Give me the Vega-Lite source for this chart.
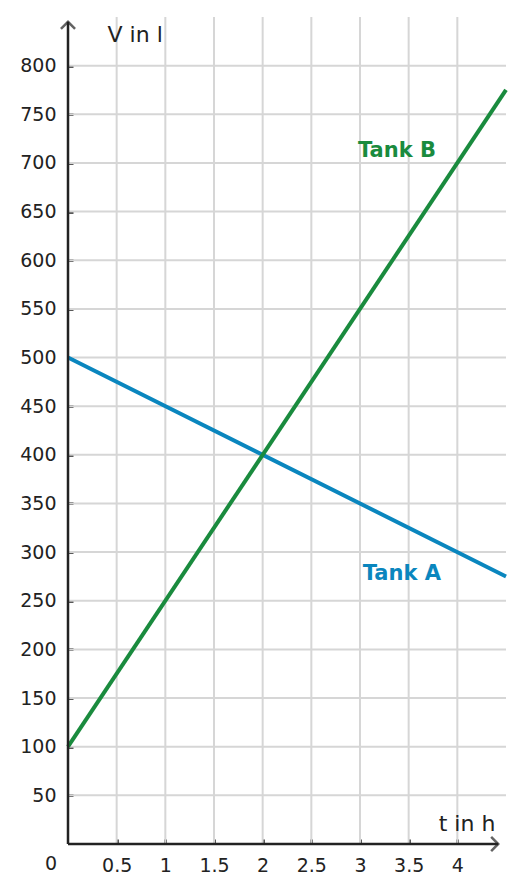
{
  "$schema": "https://vega.github.io/schema/vega-lite/v6.json",
  "width": 438,
  "height": 827,
  "autosize": {"type": "none"},
  "padding": {"left": 68, "top": 17, "right": 17, "bottom": 49},
  "background": "white",
  "config": {
    "view": {"stroke": null},
    "font": "DejaVu Sans",
    "axis": {
      "domain": false,
      "grid": false,
      "ticks": true,
      "tickColor": "#222222",
      "tickWidth": 2.5,
      "tickSize": 5,
      "offset": -5,
      "labelPadding": 12,
      "labelFont": "DejaVu Sans",
      "labelFontSize": 19,
      "labelColor": "#222222",
      "title": null
    }
  },
  "datasets": {
    "grid": [
      {"t": 0.5, "v": 0, "t2": 0.5, "v2": 850},
      {"t": 1, "v": 0, "t2": 1, "v2": 850},
      {"t": 1.5, "v": 0, "t2": 1.5, "v2": 850},
      {"t": 2, "v": 0, "t2": 2, "v2": 850},
      {"t": 2.5, "v": 0, "t2": 2.5, "v2": 850},
      {"t": 3, "v": 0, "t2": 3, "v2": 850},
      {"t": 3.5, "v": 0, "t2": 3.5, "v2": 850},
      {"t": 4, "v": 0, "t2": 4, "v2": 850},
      {"t": 0, "v": 50, "t2": 4.5, "v2": 50},
      {"t": 0, "v": 100, "t2": 4.5, "v2": 100},
      {"t": 0, "v": 150, "t2": 4.5, "v2": 150},
      {"t": 0, "v": 200, "t2": 4.5, "v2": 200},
      {"t": 0, "v": 250, "t2": 4.5, "v2": 250},
      {"t": 0, "v": 300, "t2": 4.5, "v2": 300},
      {"t": 0, "v": 350, "t2": 4.5, "v2": 350},
      {"t": 0, "v": 400, "t2": 4.5, "v2": 400},
      {"t": 0, "v": 450, "t2": 4.5, "v2": 450},
      {"t": 0, "v": 500, "t2": 4.5, "v2": 500},
      {"t": 0, "v": 550, "t2": 4.5, "v2": 550},
      {"t": 0, "v": 600, "t2": 4.5, "v2": 600},
      {"t": 0, "v": 650, "t2": 4.5, "v2": 650},
      {"t": 0, "v": 700, "t2": 4.5, "v2": 700},
      {"t": 0, "v": 750, "t2": 4.5, "v2": 750},
      {"t": 0, "v": 800, "t2": 4.5, "v2": 800}
    ],
    "lines": [
      {"tank": "Tank A", "t": 0, "v": 500},
      {"tank": "Tank A", "t": 4.5, "v": 275},
      {"tank": "Tank B", "t": 0, "v": 100},
      {"tank": "Tank B", "t": 4.5, "v": 775}
    ],
    "labels": [
      {"tank": "Tank A", "t": 3.43, "v": 278},
      {"tank": "Tank B", "t": 3.38, "v": 712}
    ],
    "axes": [
      {"axis": "x", "t": 0, "v": 0, "t2": 4.42, "v2": 0},
      {"axis": "y", "t": 0, "v": 0, "t2": 0, "v2": 845}
    ],
    "titles": [
      {"text": "V in l", "t": 0.69, "v": 832},
      {"text": "t in h", "t": 4.1, "v": 21}
    ],
    "arrows": [
      {"dir": "up", "t": 0, "v": 845},
      {"dir": "right", "t": 4.42, "v": 0}
    ]
  },
  "layer": [
    {
      "data": {"name": "grid"},
      "mark": {"type": "rule", "strokeWidth": 2, "color": "#d6d6d6"},
      "encoding": {
        "x": {
          "field": "t", "type": "quantitative",
          "scale": {"domain": [0, 4.5], "nice": false, "zero": false},
          "axis": {"values": [0.5, 1, 1.5, 2, 2.5, 3, 3.5, 4], "labelExpr": "datum.value"}
        },
        "y": {
          "field": "v", "type": "quantitative",
          "scale": {"domain": [0, 850], "nice": false},
          "axis": {"values": [50, 100, 150, 200, 250, 300, 350, 400, 450, 500, 550, 600, 650, 700, 750, 800]}
        },
        "x2": {"field": "t2"},
        "y2": {"field": "v2"}
      }
    },
    {
      "data": {"name": "lines"},
      "mark": {"type": "line", "strokeWidth": 4, "clip": false},
      "encoding": {
        "x": {"field": "t", "type": "quantitative"},
        "y": {"field": "v", "type": "quantitative"},
        "color": {
          "field": "tank", "type": "nominal",
          "scale": {"domain": ["Tank A", "Tank B"], "range": ["#0a86be", "#1a8b3e"]},
          "legend": null
        },
        "detail": {"field": "tank"}
      }
    },
    {
      "data": {"name": "labels"},
      "mark": {"type": "text", "fontWeight": "bold", "fontSize": 21, "align": "center", "baseline": "middle"},
      "encoding": {
        "x": {"field": "t", "type": "quantitative"},
        "y": {"field": "v", "type": "quantitative"},
        "text": {"field": "tank"},
        "color": {"field": "tank", "type": "nominal", "legend": null}
      }
    },
    {
      "data": {"name": "axes"},
      "mark": {"type": "rule", "strokeWidth": 2.5, "color": "#222222"},
      "encoding": {
        "x": {"field": "t", "type": "quantitative"},
        "y": {"field": "v", "type": "quantitative"},
        "x2": {"field": "t2"},
        "y2": {"field": "v2"}
      }
    },
    {
      "data": {"name": "arrows"},
      "mark": {"type": "point", "filled": false, "strokeWidth": 2.5, "color": "#222222", "size": 200},
      "encoding": {
        "x": {"field": "t", "type": "quantitative"},
        "y": {"field": "v", "type": "quantitative"},
        "shape": {
          "field": "dir", "type": "nominal",
          "scale": {"domain": ["up", "right"], "range": ["M-1,1L0,0L1,1", "M-1,-1L0,0L-1,1"]},
          "legend": null
        }
      }
    },
    {
      "data": {"name": "titles"},
      "mark": {"type": "text", "fontSize": 22, "align": "center", "baseline": "middle", "color": "#222222"},
      "encoding": {
        "x": {"field": "t", "type": "quantitative"},
        "y": {"field": "v", "type": "quantitative"},
        "text": {"field": "text"}
      }
    },
    {
      "data": {"values": [{"text": "0", "t": 0, "v": 0}]},
      "mark": {"type": "text", "fontSize": 19, "align": "center", "baseline": "middle", "color": "#222222", "dx": -17, "dy": 19.5},
      "encoding": {
        "x": {"field": "t", "type": "quantitative"},
        "y": {"field": "v", "type": "quantitative"},
        "text": {"field": "text"}
      }
    }
  ]
}
